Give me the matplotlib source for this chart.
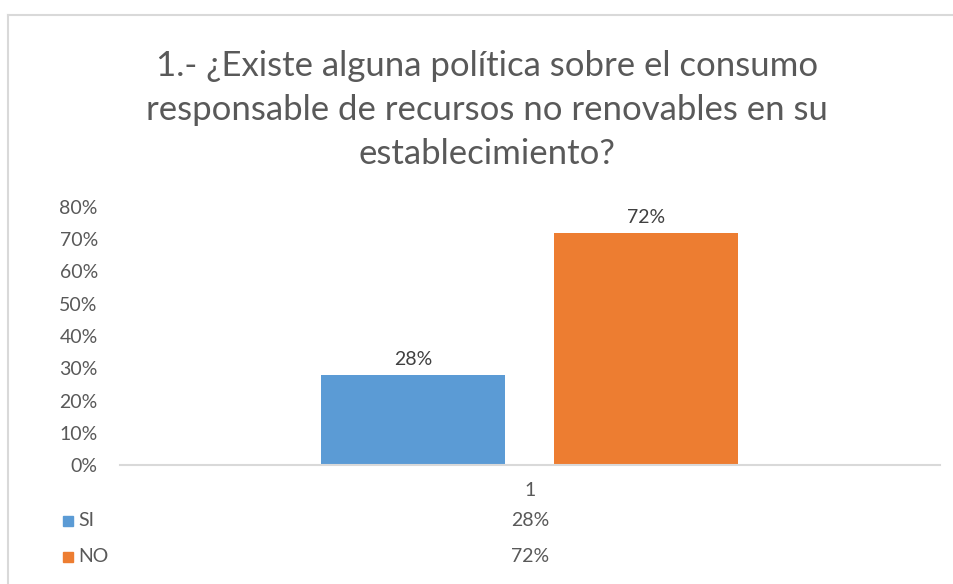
import matplotlib.pyplot as plt
from matplotlib.patches import Rectangle
from matplotlib.lines import Line2D
import matplotlib.transforms as mtransforms

# Datos
categorias = ['1']
series = ['SI', 'NO']
valores = [0.28, 0.72]
colores = ['#5B9BD5', '#ED7D31']
ticks_y = [0, 0.1, 0.2, 0.3, 0.4, 0.5, 0.6, 0.7, 0.8]
titulo = '1.- ¿Existe alguna política sobre el consumo\nresponsable de recursos no renovables en su\nestablecimiento?'

W, H = 954, 584
GRIS = '#595959'
plt.rcParams['font.family'] = ['Lato', 'DejaVu Sans']

fig = plt.figure(figsize=(W / 100, H / 100), dpi=100)
ax = fig.add_axes([120 / W, 119 / H, 820 / W, 258 / H])

# Borde del gráfico (cortado a la derecha y abajo)
fig.add_artist(Line2D([8 / W, 1], [1 - 15 / H] * 2, color='#d9d9d9', lw=1.5))
fig.add_artist(Line2D([8 / W] * 2, [0, 1 - 15 / H], color='#d9d9d9', lw=1.5))

# Barras
ancho = 0.2244
desplaz = [-0.1427, 0.142]
for nombre, v, c, d in zip(series, valores, colores, desplaz):
    ax.bar(0 + d, v, width=ancho, color=c, label=nombre)
    ax.text(0 + d, v + 0.02, f'{v:.0%}', ha='center', va='bottom', fontsize=14, color='#404040')

ax.set_xlim(-0.5, 0.5)
ax.set_ylim(0, 0.8)
ax.set_yticks(ticks_y)
ax.set_yticklabels([f'{t:.0%}' for t in ticks_y])
ax.set_xticks([0])
ax.set_xticklabels(categorias)
ax.tick_params(axis='both', length=0, labelsize=14, labelcolor=GRIS)
ax.tick_params(axis='y', pad=16)
ax.tick_params(axis='x', pad=12)
for lado in ['top', 'right', 'left']:
    ax.spines[lado].set_visible(False)
ax.spines['bottom'].set_color('#d9d9d9')
ax.spines['bottom'].set_linewidth(1.5)

# Tabla de datos debajo del eje
trans = mtransforms.blended_transform_factory(ax.transData, fig.transFigure)
filas_y = [1 - 521 / H, 1 - 557 / H]
for nombre, v, c, fy in zip(series, valores, colores, filas_y):
    fig.add_artist(Rectangle((63 / W, fy - 5 / H), 10 / W, 10 / H, color=c))
    fig.text(78 / W, fy, nombre, ha='left', va='center', fontsize=14, color=GRIS)
    ax.text(0, fy, f'{v:.0%}', transform=trans, ha='center', va='center', fontsize=14, color=GRIS)

fig.text(487 / W, 1 - 110 / H, titulo, ha='center', va='center', fontsize=25, color=GRIS,
         linespacing=1.45)

fig.savefig('out.png', dpi=100)
